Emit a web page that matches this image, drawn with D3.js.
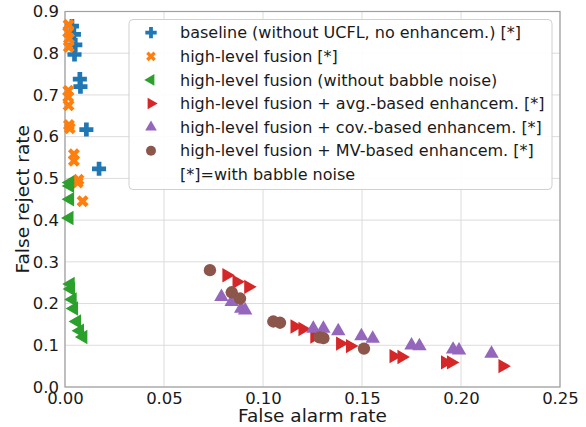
<!DOCTYPE html>
<html>
<head>
<meta charset="utf-8">
<script src="https://cdn.jsdelivr.net/npm/d3@7"></script>
<style>
  body { margin: 0; background: #fff; }
  text { font-family: "DejaVu Sans", sans-serif; fill: #1a1a1a; }
</style>
</head>
<body>
<svg id="chart" width="586" height="427"></svg>
<script>
// series data (false alarm rate, false reject rate)
var baselineX = [0.0035, 0.0045, 0.0052, 0.0048, 0.0075, 0.0078, 0.0108, 0.0172];
var baselineY = [0.865, 0.845, 0.82, 0.797, 0.738, 0.72, 0.617, 0.523];

var fusionX = [0.0018, 0.0016, 0.002, 0.0019, 0.0017, 0.0016, 0.0018, 0.002, 0.0024, 0.0045, 0.0045, 0.0068, 0.0064, 0.0089];
var fusionY = [0.868, 0.85, 0.835, 0.815, 0.71, 0.695, 0.675, 0.628, 0.62, 0.558, 0.542, 0.497, 0.49, 0.445];

var cleanX = [0.0025, 0.0025, 0.0025, 0.0022, 0.0028, 0.003, 0.0038, 0.0045, 0.006, 0.0075, 0.0092];
var cleanY = [0.49, 0.482, 0.45, 0.405, 0.247, 0.235, 0.21, 0.188, 0.157, 0.135, 0.12];

var avgX = [0.0816, 0.0867, 0.0926, 0.116, 0.12, 0.126, 0.139, 0.144, 0.166, 0.170, 0.192, 0.195, 0.221];
var avgY = [0.268, 0.252, 0.24, 0.145, 0.139, 0.121, 0.104, 0.098, 0.074, 0.072, 0.059, 0.059, 0.050];

var covX = [0.079, 0.0842, 0.089, 0.091, 0.1254, 0.1305, 0.138, 0.1497, 0.1554, 0.175, 0.179, 0.196, 0.199, 0.2154];
var covY = [0.216, 0.204, 0.188, 0.184, 0.14, 0.14, 0.134, 0.122, 0.116, 0.10, 0.098, 0.09, 0.088, 0.08];

var mvX = [0.0732, 0.0842, 0.0884, 0.1052, 0.1086, 0.1285, 0.1305, 0.151];
var mvY = [0.28, 0.227, 0.212, 0.157, 0.154, 0.119, 0.117, 0.092];

var xTicks = [0, 0.05, 0.1, 0.15, 0.2, 0.25];
var yTicks = [0, 0.1, 0.2, 0.3, 0.4, 0.5, 0.6, 0.7, 0.8, 0.9];

var legendLabels = [
  "baseline (without UCFL, no enhancem.) [*]",
  "high-level fusion [*]",
  "high-level fusion (without babble noise)",
  "high-level fusion + avg.-based enhancem. [*]",
  "high-level fusion + cov.-based enhancem. [*]",
  "high-level fusion + MV-based enhancem. [*]",
  "[*]=with babble noise"
];

var svg = d3.select("#chart");
var pLeft = 65, pRight = 560, pTop = 11.5, pBottom = 387;

var x = d3.scaleLinear().domain([0, 0.25]).range([pLeft, pRight]);
var y = d3.scaleLinear().domain([0, 0.9]).range([pBottom, pTop]);

// grid
svg.append("g").selectAll("line").data(xTicks).enter().append("line")
  .attr("x1", d => x(d)).attr("x2", d => x(d))
  .attr("y1", pTop).attr("y2", pBottom)
  .attr("stroke", "#dcdcdc").attr("stroke-width", 1);
svg.append("g").selectAll("line").data(yTicks).enter().append("line")
  .attr("y1", d => y(d)).attr("y2", d => y(d))
  .attr("x1", pLeft).attr("x2", pRight)
  .attr("stroke", "#dcdcdc").attr("stroke-width", 1);

// axes (labels only, no tick marks)
var xAxis = d3.axisBottom(x).tickValues(xTicks).tickFormat(d3.format(".2f")).tickSize(0).tickPadding(5);
var yAxis = d3.axisLeft(y).tickValues(yTicks).tickFormat(d3.format(".1f")).tickSize(0).tickPadding(6);
var gx = svg.append("g").attr("transform", "translate(0," + pBottom + ")").call(xAxis);
var gy = svg.append("g").attr("transform", "translate(" + pLeft + ",0)").call(yAxis);
[gx, gy].forEach(function (g) {
  g.select(".domain").remove();
  g.selectAll("text").style("font-size", "16.5px").attr("fill", "#1a1a1a")
    .style("font-family", "DejaVu Sans, sans-serif");
});

// frame
svg.append("rect").attr("x", pLeft).attr("y", pTop)
  .attr("width", pRight - pLeft).attr("height", pBottom - pTop)
  .attr("fill", "none").attr("stroke", "#a0a0a0").attr("stroke-width", 1.2);

svg.append("text").attr("x", (pLeft + pRight) / 2).attr("y", 422)
  .attr("text-anchor", "middle").style("font-size", "18.5px").text("False alarm rate");
svg.append("text").attr("transform", "translate(29," + ((pTop + pBottom) / 2) + ") rotate(-90)")
  .attr("text-anchor", "middle").style("font-size", "18.5px").text("False reject rate");

// marker shapes
var series = [
  {xs: baselineX, ys: baselineY, color: "#1f77b4", sym: d3.symbolCross, size: 110, rot: 0},
  {xs: fusionX, ys: fusionY, color: "#ff7f0e", sym: d3.symbolCross, size: 90, rot: 45},
  {xs: cleanX, ys: cleanY, color: "#2ca02c", sym: d3.symbolTriangle, size: 90, rot: -90},
  {xs: avgX, ys: avgY, color: "#d62728", sym: d3.symbolTriangle, size: 90, rot: 90},
  {xs: covX, ys: covY, color: "#9467bd", sym: d3.symbolTriangle, size: 90, rot: 0},
  {xs: mvX, ys: mvY, color: "#8c564b", sym: d3.symbolCircle, size: 120, rot: 0}
];

var plot = svg.append("g");
series.forEach(function (s) {
  var path = d3.symbol().type(s.sym).size(s.size)();
  plot.append("g").selectAll("path").data(s.xs).enter().append("path")
    .attr("d", path)
    .attr("transform", function (d, i) {
      return "translate(" + x(d) + "," + y(s.ys[i]) + ") rotate(" + s.rot + ")";
    })
    .attr("fill", s.color);
});

// legend
var lg = svg.append("g");
lg.append("rect").attr("x", 129).attr("y", 19.5).attr("width", 423).attr("height", 170)
  .attr("rx", 4).attr("fill", "#fff").attr("fill-opacity", 0.9)
  .attr("stroke", "#d0d0d0").attr("stroke-width", 1);
legendLabels.forEach(function (label, i) {
  var cy = 32.7 + i * 23.6;
  if (i < series.length) {
    var s = series[i];
    lg.append("path").attr("d", d3.symbol().type(s.sym).size(s.size * 0.65)())
      .attr("transform", "translate(151," + cy + ") rotate(" + s.rot + ")")
      .attr("fill", s.color);
  }
  lg.append("text").attr("x", 180).attr("y", cy).attr("dy", "0.35em")
    .style("font-size", "16px").text(label);
});
</script>
</body>
</html>
